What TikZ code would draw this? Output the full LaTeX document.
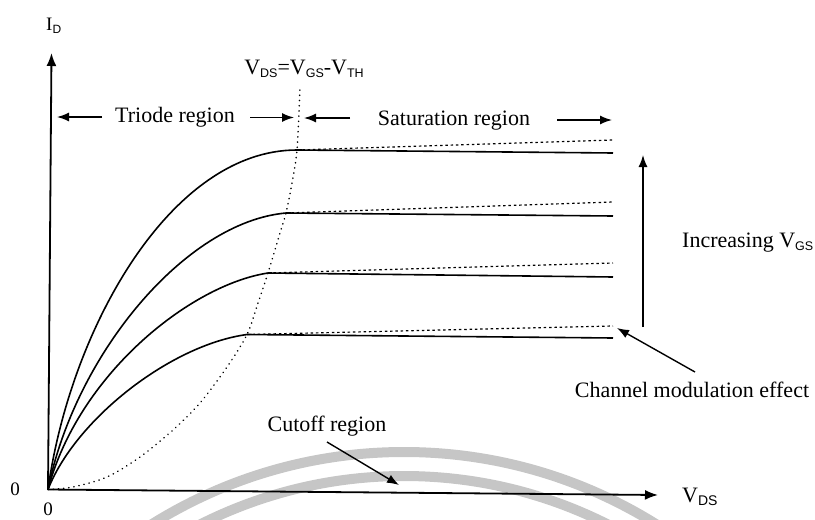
\documentclass[tikz,border=0pt]{standalone}
\usepackage{fontspec}
\setmainfont{Liberation Serif}
\newfontfamily\subf{Liberation Sans}
\usetikzlibrary{arrows.meta}
\newcommand{\sbs}[2][12.5]{\raisebox{-3pt}{\fontsize{#1}{#1}\subf #2}}
\begin{document}
\begin{tikzpicture}[x=1pt,y=-1pt,
  lbl/.style={font=\fontsize{22}{26}\selectfont, inner sep=0pt, anchor=base},
  sml/.style={font=\fontsize{19}{21}\selectfont, inner sep=0pt, anchor=base},
  axis/.style={line width=1.8pt, -{Latex[length=13pt,width=10pt]}},
  curve/.style={line width=1.6pt},
  bound/.style={line width=1.6pt, line cap=round, dash pattern=on 0.2pt off 5pt},
  clm/.style={line width=1.2pt, dash pattern=on 2.5pt off 2.8pt},
  arr/.style={line width=1.4pt, -{Latex[length=12pt,width=9pt]}},
  wm/.style={line width=10pt, color=gray!45}]
\useasboundingbox (0,0) rectangle (815,520);
\begin{scope}
  \clip (0,0) rectangle (815,520);
  \draw[wm] (404,928) circle[radius=476pt];
  \draw[wm] (404,928) circle[radius=452pt];
\end{scope}
% key points
\coordinate (O) at (48,489.5);
\coordinate (YT) at (51.5,53);
\coordinate (XT) at (658,495);
\coordinate (K1) at (297,150);
\coordinate (K2) at (286,213);
\coordinate (K3) at (268,273);
\coordinate (K4) at (247,334.5);
\coordinate (E1) at (613,153);
\coordinate (E2) at (613,216);
\coordinate (E3) at (613,277);
\coordinate (E4) at (613,338);
\coordinate (D1) at (613,140);
\coordinate (D2) at (613,202);
\coordinate (D3) at (613,263);
\coordinate (D4) at (613,326);
\coordinate (BT) at (300,88);
% axes
\draw[axis] (O) -- (YT);
\draw[axis] (O) -- (XT);
% boundary V_DS = V_GS - V_TH
\draw[bound] plot[smooth] coordinates {(O) (73,487) (107,477) (140,457) (173,430) (200,403) (227,367) (K4) (258,303) (K3) (280,233) (K2) (292,183) (K1) (BT)};
% triode curves
\draw[curve] (O) .. controls (70,330) and (170,150) .. (K1);
\draw[curve] (O) .. controls (75,355) and (185,222) .. (K2);
\draw[curve] (O) .. controls (78,375) and (190,285) .. (K3);
\draw[curve] (O) .. controls (75,420) and (170,345) .. (K4);
% saturation lines
\draw[curve] (K1) -- (E1);
\draw[curve] (K2) -- (E2);
\draw[curve] (K3) -- (E3);
\draw[curve] (K4) -- (E4);
\draw[clm] (K1) -- (D1);
\draw[clm] (K2) -- (D2);
\draw[clm] (K3) -- (D3);
\draw[clm] (K4) -- (D4);
% labels
\node[sml, anchor=base west] (id) at (46,30) {I\sbs[12]{D}};
\node[lbl] (vth) at (304,74) {V\sbs{DS}=V\sbs{GS}-V\sbs{TH}};
\node[lbl] (tri) at (175,122.5) {Triode region};
\node[lbl] (sat) at (454,125.5) {Saturation region};
\node[lbl, anchor=base west] (inc) at (682,247) {Increasing V\sbs{GS}};
\node[lbl] (chm) at (692,397) {Channel modulation effect};
\node[lbl] (cut) at (327,431) {Cutoff region};
\node[lbl, anchor=base west] (vds) at (682,502) {V\sbs[14]{DS}};
\node[sml] (z1) at (15,495) {0};
\node[sml] (z2) at (48,515.5) {0};
% region arrows
\coordinate (a1) at (102,117);   \coordinate (a1h) at (57,117);
\coordinate (a2) at (250,117.5); \coordinate (a2h) at (294,117.5);
\coordinate (a3) at (350,118);   \coordinate (a3h) at (304,118);
\coordinate (a4) at (557,120);   \coordinate (a4h) at (612,120);
\coordinate (b1) at (643,327);   \coordinate (b1h) at (643,155);
\coordinate (c1) at (695,372);   \coordinate (c1h) at (617,328);
\coordinate (d1) at (327,442);   \coordinate (d1h) at (399,485);
\draw[arr] (a1) -- (a1h);
\draw[arr] (a2) -- (a2h);
\draw[arr] (a3) -- (a3h);
\draw[arr] (a4) -- (a4h);
\draw[arr] (b1) -- (b1h);
\draw[arr] (c1) -- (c1h);
\draw[arr] (d1) -- (d1h);
\end{tikzpicture}
\end{document}
